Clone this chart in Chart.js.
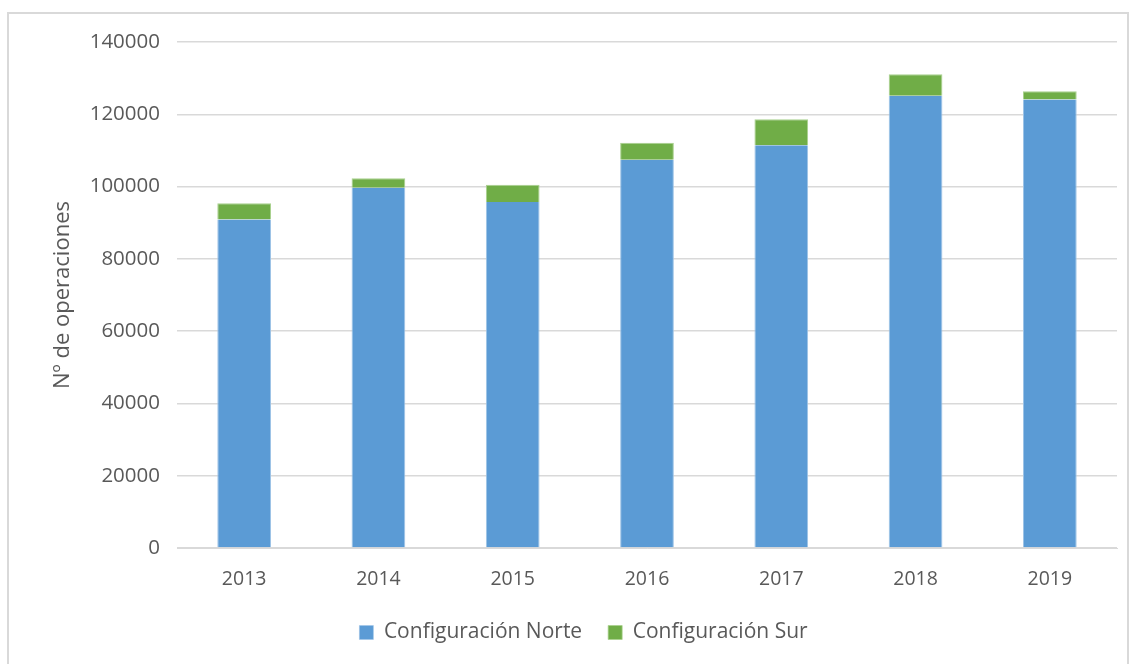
<!DOCTYPE html>
<html>
<head>
<meta charset="utf-8">
<script src="https://cdn.jsdelivr.net/npm/chart.js@4/dist/chart.umd.min.js"></script>
<style>
  html, body { margin: 0; padding: 0; background: #fff; }
  #wrap { position: relative; width: 1134px; height: 664px; overflow: hidden; }
  #frame { position: absolute; left: 7px; top: 12px; width: 1122px; height: 700px; border: 2px solid #d9d9d9; box-sizing: border-box; }
  canvas { position: absolute; left: 0; top: 0; }
</style>
</head>
<body>
<div id="wrap">
  <div id="frame"></div>
  <canvas id="myChart" width="1134" height="664"></canvas>
</div>
<script>
// datos
var years = ['2013', '2014', '2015', '2016', '2017', '2018', '2019'];
var norte = [90900, 99700, 95700, 107400, 111400, 125100, 124100];
var sur = [4500, 2600, 4800, 4700, 7200, 6000, 2300];
var yTicks = [0, 20000, 40000, 60000, 80000, 100000, 120000, 140000];

var textColor = '#595959';
var fontFamily = '"Open Sans", Lato, sans-serif';

var ctx = document.getElementById('myChart').getContext('2d');
var myChart = new Chart(ctx, {
    type: 'bar',
    data: {
        labels: years,
        datasets: [{
            label: 'Configuración Norte',
            data: norte,
            backgroundColor: '#5B9BD5',
            borderColor: '#9DC3E6',
            borderWidth: { left: 1, right: 1, top: 0, bottom: 0 },
            barPercentage: 0.4,
            categoryPercentage: 1
        }, {
            label: 'Configuración Sur',
            data: sur,
            backgroundColor: '#70AD47',
            borderColor: '#A9D18E',
            borderWidth: { left: 1, right: 1, top: 1, bottom: 0 },
            barPercentage: 0.4,
            categoryPercentage: 1
        }]
    },
    options: {
        responsive: false,
        animation: false,
        layout: { padding: { top: 42, right: 17, bottom: 11, left: 50 } },
        plugins: {
            tooltip: { enabled: false },
            legend: {
                position: 'bottom',
                labels: {
                    color: textColor,
                    font: { family: fontFamily, size: 21 },
                    boxWidth: 14,
                    boxHeight: 14,
                    padding: 26
                }
            }
        },
        scales: {
            x: {
                stacked: true,
                grid: { display: false },
                border: { color: '#d9d9d9', width: 1 },
                ticks: { color: textColor, font: { family: fontFamily, size: 19.5 }, padding: 12 },
                afterFit: function(scale) { scale.height = 48; }
            },
            y: {
                stacked: true,
                min: 0,
                max: 140000,
                afterBuildTicks: function(scale) {
                    scale.ticks = yTicks.map(function(v) { return { value: v }; });
                },
                grid: { color: '#d9d9d9', lineWidth: 1.5, drawTicks: false },
                border: { display: false },
                ticks: {
                    color: textColor,
                    font: { family: fontFamily, size: 20.5 },
                    padding: 17,
                    callback: function(v) { return String(v); }
                },
                title: {
                    display: true,
                    text: 'Nº de operaciones',
                    color: textColor,
                    font: { family: fontFamily, size: 22 },
                    padding: 0
                },
                afterFit: function(scale) { scale.width = 127; }
            }
        }
    }
});
</script>
</body>
</html>
